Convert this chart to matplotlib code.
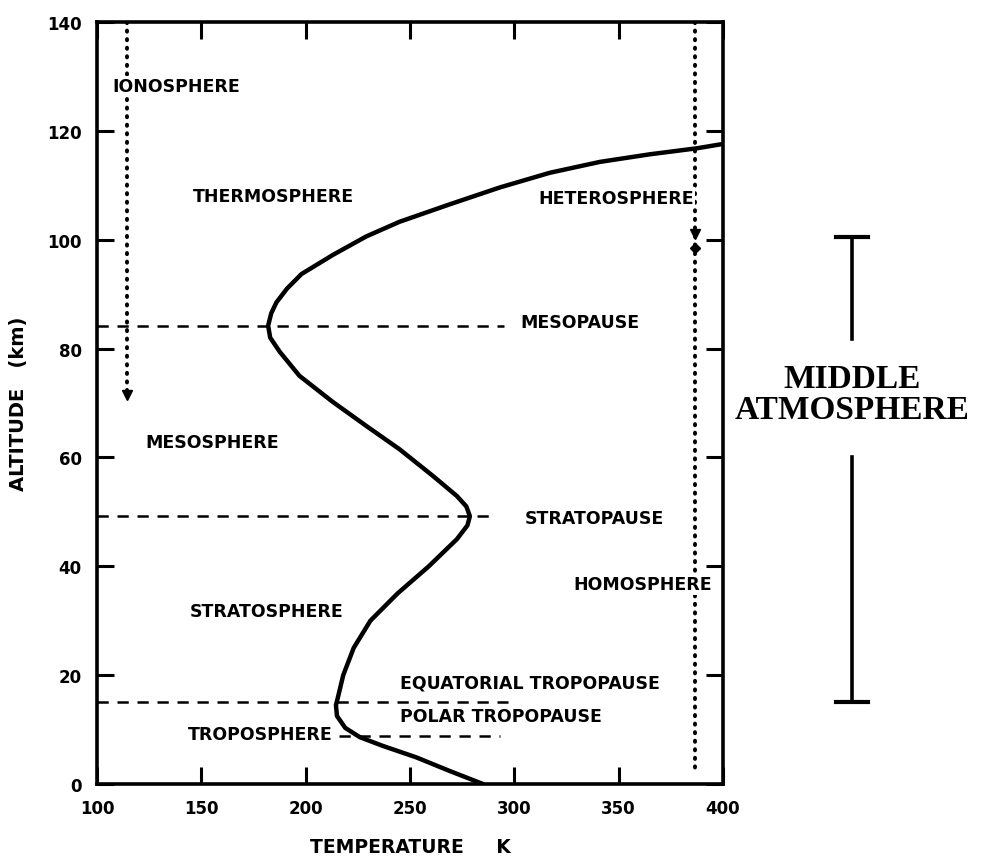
import matplotlib.pyplot as plt

# temperature profile (K, km)
temp_k = [285, 269, 253, 237, 226, 219, 215, 214.5, 215.5, 218, 223, 231, 244, 259,
          272.5, 277.5, 278.7, 277, 272.5, 261, 245, 229, 213, 197, 187.6, 183, 182,
          183.5, 186, 191, 198, 213, 229, 245, 269, 293, 317, 341, 365, 387.5, 400]
alt_km = [0, 2.4, 4.9, 7.0, 8.6, 10.3, 12.5, 14.5, 16, 20, 25, 30, 35, 40,
          45, 47.5, 49.2, 51, 52.9, 56.6, 61.5, 65.8, 70.2, 75, 79.4, 82, 84.2,
          86.5, 88.5, 91, 93.7, 97.2, 100.6, 103.3, 106.5, 109.6, 112.3, 114.3, 115.7, 116.8, 117.6]

# boundary lines: (altitude, T start, T end)
pause_alt = [84.2, 49.2, 15.0, 8.8]
pause_t0 = [100, 100, 100, 216]
pause_t1 = [295, 291, 297, 293]

# region labels: text, T, altitude, alignment
labels = ['IONOSPHERE', 'THERMOSPHERE', 'HETEROSPHERE', 'MESOPAUSE', 'MESOSPHERE',
          'STRATOPAUSE', 'HOMOSPHERE', 'STRATOSPHERE', 'EQUATORIAL TROPOPAUSE',
          'POLAR TROPOPAUSE', 'TROPOSPHERE']
label_t = [107.5, 146, 311.3, 302.7, 123, 305, 394.7, 144.6, 245.2, 245.2, 143.6]
label_z = [128.2, 108, 107.7, 84.9, 62.8, 48.9, 36.7, 31.8, 18.7, 12.5, 9.2]
label_ha = ['left', 'left', 'left', 'left', 'left', 'left', 'right', 'left', 'left', 'left', 'left']
label_box = [True, False, True, False, False, False, True, False, False, False, False]

xticks = [100, 150, 200, 250, 300, 350, 400]
yticks = [0, 20, 40, 60, 80, 100, 120, 140]

fig = plt.figure(figsize=(9.85, 8.62), dpi=100)
ax = fig.add_axes([0.0985, 0.0893, 0.6355, 0.884])

# dotted ionosphere / heterosphere markers
ax.plot([114.4, 114.4], [140, 72], color='black', lw=2.8, ls=(0, (0.3, 1.9)),
        dash_capstyle='round', zorder=1)
ax.plot([114.4], [71.5], marker='v', color='black', ms=7, zorder=1)
ax.plot([386.5, 386.5], [140, 2], color='black', lw=2.8, ls=(0, (0.3, 1.9)),
        dash_capstyle='round', zorder=1)
ax.plot([386.5], [101], marker='v', color='black', ms=7, zorder=1)
ax.plot([386.5], [98.5], marker='D', color='black', ms=5, zorder=1)

for z, t0, t1 in zip(pause_alt, pause_t0, pause_t1):
    ax.plot([t0, t1], [z, z], color='black', lw=1.8, ls=(0, (4.5, 3.5)), zorder=2)

ax.plot(temp_k, alt_km, color='black', lw=3.2, solid_capstyle='round',
        solid_joinstyle='round', zorder=3)

for txt, t, z, ha, box in zip(labels, label_t, label_z, label_ha, label_box):
    kw = {}
    if box:
        kw['bbox'] = dict(facecolor='white', edgecolor='none', pad=1)
    ax.text(t, z, txt, ha=ha, va='center', fontsize=12.5, fontweight='bold', zorder=4, **kw)

ax.set_xlim(100, 400)
ax.set_ylim(0, 140)
ax.set_xticks(xticks)
ax.set_yticks(yticks)
ax.tick_params(direction='in', length=12, width=2.2, top=True, right=True,
               labelsize=12, pad=11)
for lab in ax.get_xticklabels() + ax.get_yticklabels():
    lab.set_fontweight('bold')
for sp in ax.spines.values():
    sp.set_linewidth(2.6)

ax.set_xlabel('TEMPERATURE     K', fontsize=13.5, fontweight='bold', labelpad=14)
ax.set_ylabel('ALTITUDE   (km)', fontsize=14, fontweight='bold', labelpad=14)

# middle atmosphere bracket outside the axes
bar_t = 461.8
ax.plot([bar_t, bar_t], [100.5, 81.8], color='black', lw=2.6, clip_on=False)
ax.plot([bar_t, bar_t], [60.1, 15], color='black', lw=2.6, clip_on=False)
ax.plot([bar_t - 7.7, bar_t + 7.7], [100.5, 100.5], color='black', lw=3, clip_on=False)
ax.plot([bar_t - 7.7, bar_t + 7.7], [15, 15], color='black', lw=3, clip_on=False)
ax.text(bar_t, 71.6, 'MIDDLE\nATMOSPHERE', ha='center', va='center', fontsize=24,
        family='Liberation Serif', fontweight='bold', linespacing=1.0, clip_on=False)

fig.savefig('out.png', dpi=100)
